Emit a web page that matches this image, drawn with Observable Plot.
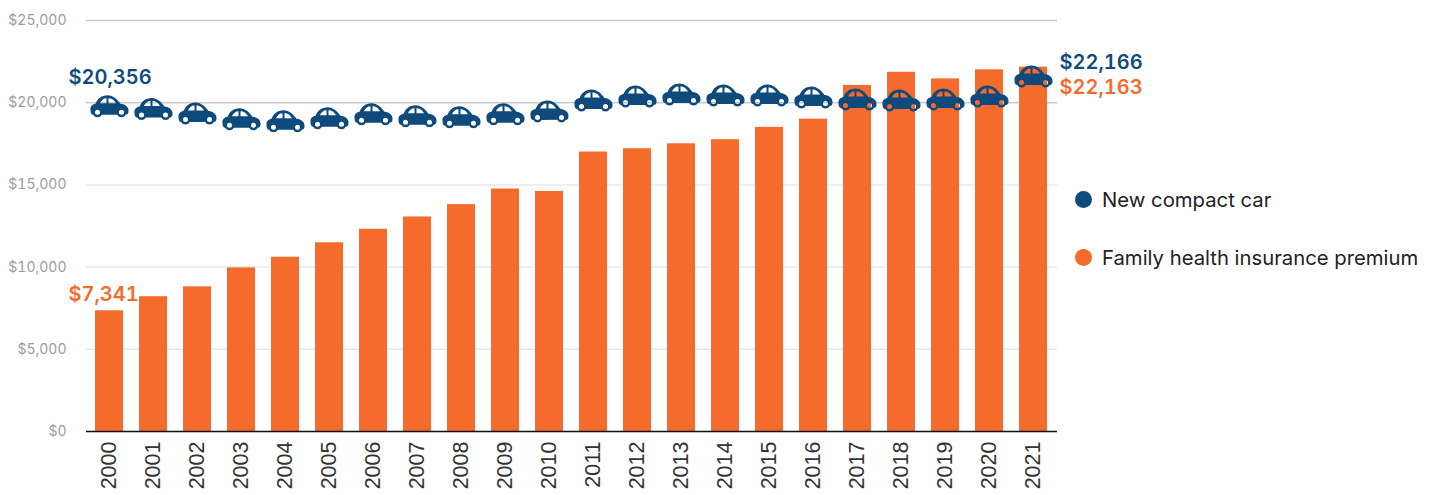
<!DOCTYPE html>
<html><head><meta charset="utf-8">
<script src="https://cdn.jsdelivr.net/npm/d3@7"></script>
<script src="https://cdn.jsdelivr.net/npm/@observablehq/plot@0.6"></script>
<style>
html,body{margin:0;padding:0;background:#fff;width:1434px;height:495px;overflow:hidden;position:relative}
#chart svg{display:block}
g[aria-label="x-axis tick label"] text{font-family:"Liberation Sans",Arial,sans-serif}
.legend{position:absolute;left:1075px;font:20.3px Inter,"Noto Sans",sans-serif;color:#222;display:flex;align-items:center;white-space:nowrap}
.legend i{display:inline-block;width:17px;height:17px;border-radius:50%;margin-right:10px}
</style></head><body>
<div id="chart"></div>
<div class="legend" style="top:187px"><i style="background:#0e4a7b"></i>New compact car</div>
<div class="legend" style="top:245px"><i style="background:#f46b2b"></i>Family health insurance premium</div>
<script>
const years = [2000,2001,2002,2003,2004,2005,2006,2007,2008,2009,2010,2011,2012,2013,2014,2015,2016,2017,2018,2019,2020,2021];
const premium = [7341,8200,8800,9950,10600,11480,12300,13050,13800,14750,14600,17000,17200,17500,17750,18500,19000,21050,21850,21450,22000,22163];
const car = [20356,20200,19920,19570,19450,19630,19870,19750,19690,19870,20050,20710,20950,21070,21010,21010,20890,20770,20710,20770,20950,22166];
const yTicks = [0,5000,10000,15000,20000,25000];
const NAVY = "#0e4a7b", ORANGE = "#f46b2b";

const bars = years.map((year,i)=>({year,value:premium[i]}));
const cars = years.map((year,i)=>({year,value:car[i]}));
// Car silhouette: outline clockwise, windows and hubs anticlockwise, so they are true holes.
const carShape = {draw(c,s){const k=Math.sqrt(s/Math.PI)/19, r=5, a=0.52;
  c.moveTo(-19*k,4*k);
  c.bezierCurveTo(-19.5*k,0,-17*k,-2*k,-14*k,-2.5*k);
  c.bezierCurveTo(-12*k,-7.5*k,-8*k,-11*k,-2*k,-11*k);
  c.bezierCurveTo(4*k,-11*k,8*k,-6.5*k,11*k,-2.5*k);
  c.bezierCurveTo(16*k,-2*k,19.5*k,1*k,19*k,5*k);
  c.bezierCurveTo(19*k,7*k,18*k,8.5*k,16.3*k,8.5*k);
  c.arc(12*k,6*k,r*k,a,Math.PI-a,false);
  c.lineTo(-7.7*k,8.5*k);
  c.arc(-12*k,6*k,r*k,a,Math.PI-a,false);
  c.bezierCurveTo(-18*k,8.5*k,-19*k,7*k,-19*k,4*k);
  c.closePath();
  // windows
  c.moveTo(-9.5*k,-3*k);c.lineTo(-3*k,-3*k);c.lineTo(-3*k,-8*k);c.bezierCurveTo(-6*k,-8*k,-8.5*k,-6*k,-9.5*k,-3*k);c.closePath();
  c.moveTo(-1*k,-3*k);c.lineTo(6.5*k,-3*k);c.bezierCurveTo(5*k,-5.5*k,3*k,-8*k,-1*k,-8*k);c.closePath();
  // wheel hubs
  for(const x of [-12,12]){c.moveTo((x+2.5)*k,6*k);c.arc(x*k,6*k,2.5*k,0,2*Math.PI,true);c.closePath();}
}};
const money = d => "$"+d3.format(",")(d.value);
const labelOpts = {x:"year",y:"value",text:money,textAnchor:"start",fontSize:20,fontWeight:600,fontVariant:"tabular-nums"};
const carLabel = {...labelOpts,fill:NAVY};
const plot = Plot.plot({
  width:1434,height:495,marginLeft:86,marginRight:377,marginTop:20,marginBottom:64,
  style:{background:"transparent",fontFamily:"Inter, 'Noto Sans', sans-serif",overflow:"visible"},
  x:{type:"band",domain:years,paddingInner:0.36,paddingOuter:0.18,align:0.5,label:null},
  y:{domain:[0,25000],label:null},
  marks:[
    Plot.ruleY(yTicks.filter(d=>d>0),{stroke:d=>d>=20000?"#c9c9c9":"#e9e9e9",strokeWidth:1.5}),
    Plot.axisY({ticks:yTicks,tickSize:0,tickPadding:0,dx:-20,label:null,tickFormat:d=>"$"+d3.format(",")(d),fontSize:14,color:"#9c9c9c"}),
    Plot.axisX({tickSize:0,tickRotate:-90,tickPadding:10,label:null,tickFormat:d=>String(d),fontSize:21.5,color:"#333"}),
    Plot.barY(bars,{x:"year",y:"value",fill:ORANGE}),
    Plot.ruleY([0],{stroke:"#111",strokeWidth:1.5}),
    Plot.dot(cars,{x:"year",y:"value",r:19,dy:9.5,symbol:carShape,fill:NAVY,stroke:"none"}),
    Plot.text([cars[0]],{...carLabel,dx:-41,dy:-19}),
    Plot.text([cars[21]],{...carLabel,dx:26,dy:-4}),
    Plot.text([bars[0]],{...labelOpts,dx:-41,dy:-16,fill:ORANGE}),
    Plot.text([bars[21]],{...labelOpts,dx:26,dy:20,fill:ORANGE})
  ]
});
document.getElementById("chart").appendChild(plot);
</script>
</body></html>
